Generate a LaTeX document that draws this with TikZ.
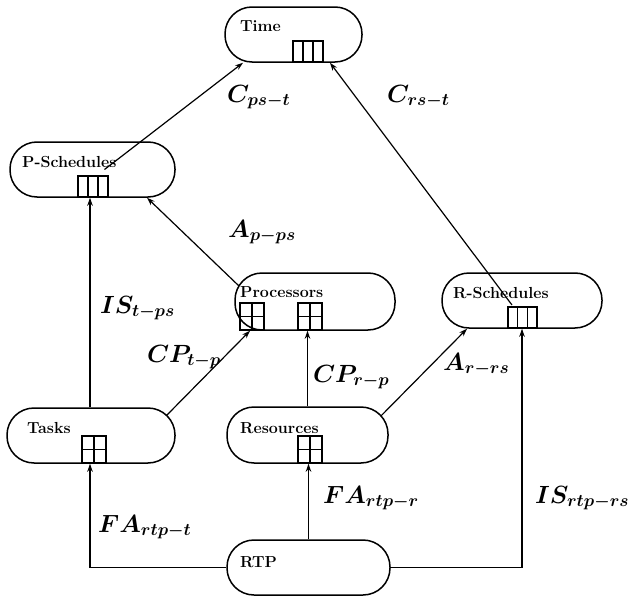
\documentclass[tikz,border=0pt]{standalone}
\usetikzlibrary{arrows.meta}
\begin{document}
\begin{tikzpicture}[x=1pt,y=-1pt,
  box/.style={draw, line width=1.5pt, rounded corners=27pt, inner sep=0pt, minimum height=55pt},
  ttl/.style={font=\fontsize{16}{19}\selectfont\bfseries, anchor=base west, inner sep=0pt},
  lab/.style={font=\fontsize{27}{32}\selectfont\boldmath, anchor=base west, inner sep=0pt},
  arr/.style={-{Stealth[length=8pt,width=5.5pt]}, line width=1.2pt},
  pics/threecol/.style={code={
    \draw[line width=1.4pt] (0,0) rectangle (#1,-21);
    \draw[line width=1.4pt] ({#1/3},0) -- ({#1/3},-21) ({2*#1/3},0) -- ({2*#1/3},-21);}},
  pics/fourgrid/.style={code={
    \draw[line width=1.4pt] (0,0) rectangle (24,-27);
    \draw[line width=1.4pt] (12,0) -- (12,-27) (0,-13.5) -- (24,-13.5);}}
]
\useasboundingbox (0,0) rectangle (638,597);

% boxes
\node[box, minimum width=137pt] (time)   at (293.5,34.5) {};
\node[box, minimum width=165pt] (psched) at (92.5,169.5) {};
\node[box, minimum width=160pt, minimum height=57pt] (proc) at (315,301.5) {};
\node[box, minimum width=160pt] (rsched) at (522,300.5) {};
\node[box, minimum width=168pt] (tasks)  at (91,435.5) {};
\node[box, minimum width=161pt, minimum height=56pt] (res) at (307.5,435) {};
\node[box, minimum width=163pt] (rtp)    at (308.5,567.5) {};

% titles
\node[ttl] (timeT)   at (240,31)  {Time};
\node[ttl] (pschedT) at (22,167)  {P-Schedules};
\node[ttl] (procT)   at (240,297) {Processors};
\node[ttl] (rschedT) at (453,298) {R-Schedules};
\node[ttl] (tasksT)  at (27,433)  {Tasks};
\node[ttl] (resT)    at (240,433) {Resources};
\node[ttl] (rtpT)    at (240,567) {RTP};

% icons
\pic at (293,62)  {threecol=30};
\pic at (78,197)  {threecol=30};
\pic at (508,328) {threecol=29};
\pic at (240,330) {fourgrid};
\pic at (298,330) {fourgrid};
\pic at (82,463)  {fourgrid};
\pic at (298,463) {fourgrid};

% connectors
\draw[arr] ([shift={(12,0)}]psched.center) -- ([shift={(-50.5,0)}]time.south);
\draw[arr] ([shift={(-10,4.5)}]rsched.center) -- ([shift={(36.5,0)}]time.south);
\draw[arr] ([shift={(-76,-15.5)}]proc.center) -- ([shift={(54.5,0)}]psched.south);
\draw[arr] ([shift={(-1,0)}]tasks.north) -- ([shift={(-1,0)}]tasks.north |- psched.south);
\draw[arr] ([shift={(75.4,-19.9)}]tasks.center) -- ([shift={(-65,0)}]proc.south);
\draw[arr] (res.north) -- (res.north |- proc.south);
\draw[arr] ([shift={(73.5,-19.1)}]res.center) -- ([shift={(-55,0)}]rsched.south);
\draw[arr] (rtp.west) -| ([shift={(-1,0)}]tasks.south);
\draw[arr] (rtp.north) -- (rtp.north |- res.south);
\draw[arr] (rtp.east) -| (rsched.south);

% labels
\node[lab] (l1) at (227,102) {$C_{ps-t}$};
\node[lab] (l2) at (387,102) {$C_{rs-t}$};
\node[lab] (l3) at (228,237) {$A_{p-ps}$};
\node[lab] (l4) at (100,313) {$IS_{t-ps}$};
\node[lab] (l5) at (147,362) {$CP_{t-p}$};
\node[lab] (l6) at (313,382) {$CP_{r-p}$};
\node[lab] (l7) at (443,370) {$A_{r-rs}$};
\node[lab] (l8) at (323,503) {$FA_{rtp-r}$};
\node[lab] (l9) at (535,503) {$IS_{rtp-rs}$};
\node[lab] (l10) at (98,532) {$FA_{rtp-t}$};
\end{tikzpicture}
\end{document}
